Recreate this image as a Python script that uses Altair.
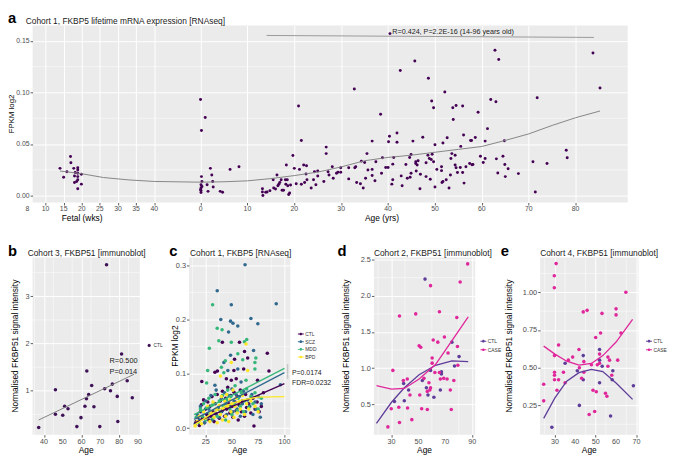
import altair as alt
import pandas as pd

FONT = "Liberation Sans"
BG = "#EBEBEB"
LAB = "#4D4D4D"
ONE = pd.DataFrame({"k": [0]})
LINEDOT = ("M-1,-0.15L1,-0.15L1,0.15L-1,0.15Z "
           "M-0.45,0A0.45,0.45,0,1,1,0.45,0A0.45,0.45,0,1,1,-0.45,0Z")

# ---------------- panel a data ----------------
a_fetal_points = [(14.0, 0.0264), (15.0, 0.0178), (15.9, 0.0232), (16.9, 0.0378), (17.0, 0.0318),
                  (17.8, 0.0264), (18.0, 0.019), (18.0, 0.0127), (18.9, 0.027), (18.9, 0.0248),
                  (18.9, 0.0216), (18.9, 0.0184), (18.9, 0.0153), (18.9, 0.0067), (18.6, 0.0137),
                  (19.9, 0.0207), (19.9, 0.0111), (18.2, 0.0223)]
a_adult_points = [(0.0, 0.0932), (0.2, 0.063), (1.0, 0.0757), (0.2, 0.0184), (0.1, 0.0105), (0.1, 0.0073),
                  (0.1, 0.005), (0.1, 0.003), (0.3, 0.0137), (0.0, 0.0057), (0.3, 0.0089), (2.1, 0.0264),
                  (2.4, 0.020), (2.6, 0.0137), (2.7, 0.0083), (1.4, 0.0105), (1.6, 0.0041), (4.2, 0.0041),
                  (4.7, 0.0032), (6.3, 0.0254), (8.2, 0.028),
                  (13.2, 0.0035), (13.2, 0.0067), (13.3, 0.0), (13.9, 0.0032), (14.2, 0.0035), (14.8, 0.0048),
                  (15.5, 0.0153), (15.6, 0.0073), (16.0, 0.0064), (16.3, 0.020), (16.5, 0.0095), (16.7, 0.011),
                  (16.9, 0.0127), (17.2, 0.0153), (17.4, 0.0051), (17.7, 0.0051), (18.1, 0.0153), (18.2, 0.011),
                  (18.3, 0.0296), (18.5, 0.0153), (18.6, 0.0095), (18.8, 0.001), (19.0, 0.0025), (19.2, 0.0102),
                  (19.7, 0.0388), (20.0, 0.0264), (20.4, 0.0114), (20.9, 0.0868), (21.1, 0.0254), (21.5, 0.0534),
                  (21.5, 0.011), (22.0, 0.0296), (22.2, 0.0127), (22.6, 0.029), (22.7, 0.0153), (22.5, 0.021),
                  (23.6, 0.0073), (24.1, 0.0153), (24.3, 0.0232), (24.6, 0.0105), (25.0, 0.0238), (25.0, 0.019),
                  (26.3, 0.0137), (26.8, 0.047), (26.8, 0.0407),
                  (27.2, 0.0232), (27.4, 0.020), (28.1, 0.028), (28.3, 0.0169), (29.0, 0.0216), (29.3, 0.0226),
                  (29.9, 0.0226), (29.9, 0.027), (31.6, 0.0162), (31.6, 0.027), (32.8, 0.1033), (32.9, 0.027),
                  (33.1, 0.028), (33.3, 0.0127), (34.1, 0.0114), (34.3, 0.0334), (34.7, 0.0073), (35.0, 0.0321),
                  (35.2, 0.0169), (35.5, 0.0407), (35.7, 0.0248), (36.6, 0.0194), (36.6, 0.0254), (36.6, 0.0528),
                  (37.2, 0.0143), (37.4, 0.0328), (38.4, 0.0789), (38.6, 0.0216), (38.8, 0.0366), (39.5, 0.0273),
                  (40.0, 0.0273), (40.1, 0.0522), (40.3, 0.0576), (40.4, 0.157), (40.8, 0.0111), (41.0, 0.0305),
                  (41.0, 0.0153), (41.2, 0.0369), (41.9, 0.0607), (41.9, 0.0518), (42.6, 0.1212), (42.8, 0.0191),
                  (43.0, 0.0095), (43.8, 0.0302), (44.1, 0.0169), (44.6, 0.0369), (44.7, 0.0178), (44.9, 0.0398),
                  (44.9, 0.0216), (45.3, 0.0528), (45.7, 0.1304), (45.9, 0.0312), (45.9, 0.0328), (46.0, 0.0238),
                  (46.2, 0.0296), (46.4, 0.0337), (46.8, 0.0067), (46.9, 0.0207), (47.4, 0.0566), (48.1, 0.0318),
                  (48.1, 0.0184), (48.5, 0.0391), (48.6, 0.1138), (48.8, 0.0359), (49.0, 0.0159), (49.2, 0.035),
                  (49.3, 0.0916), (49.4, 0.0401), (49.7, 0.0852), (49.7, 0.0328), (50.0, 0.0083), (50.0, 0.0493),
                  (50.4, 0.0254), (51.4, 0.0242), (51.4, 0.028), (51.5, 0.0127), (51.7, 0.0509), (51.7, 0.0137),
                  (52.1, 0.1005), (52.6, 0.056), (52.4, 0.0153), (53.0, 0.0073), (53.3, 0.020), (53.4, 0.0359),
                  (53.6, 0.0407), (53.8, 0.0852), (53.9, 0.0738), (54.3, 0.0296), (54.3, 0.0391), (54.5, 0.0874),
                  (54.5, 0.027), (54.8, 0.0223), (55.4, 0.0273), (55.5, 0.0477), (55.9, 0.0223), (55.9, 0.0868),
                  (56.1, 0.0588), (56.2, 0.0121), (56.6, 0.028), (57.4, 0.0312), (57.6, 0.0534), (57.8, 0.0534),
                  (57.9, 0.0299), (58.1, 0.0302), (58.6, 0.0563), (59.2, 0.0808), (59.7, 0.0382), (60.3, 0.0321),
                  (60.7, 0.0359), (60.7, 0.0528), (61.2, 0.0649), (61.9, 0.0932), (62.8, 0.1409), (63.0, 0.091),
                  (63.1, 0.0356), (63.4, 0.0219), (63.6, 0.132), (64.5, 0.0382), (64.8, 0.0531), (64.9, 0.0302),
                  (65.0, 0.0184), (65.6, 0.0261), (67.8, 0.0213), (70.9, 0.0328), (71.4, 0.0035), (71.8, 0.0948),
                  (73.9, 0.0312), (78.0, 0.0439), (78.2, 0.0366), (83.7, 0.1383), (85.2, 0.1043)]
a_fit_fetal = [(14, 0.0238), (20, 0.0212), (26, 0.0175), (33, 0.0152), (40, 0.0137)]
a_fit_adult = [(0, 0.0130), (5, 0.0134), (10, 0.0143), (15, 0.0165), (20, 0.0194), (25, 0.0228),
               (30, 0.0278), (35, 0.0338), (40, 0.0370), (45, 0.0392), (50, 0.0420), (55, 0.0448),
               (60, 0.0476), (65, 0.0535), (70, 0.0598), (75, 0.0680), (80, 0.0755), (85.2, 0.0820)]
a_rline = [(14.1, 0.1552), (83.9, 0.1533)]
a_fetal_ticks = [10, 15, 20, 25, 30, 35, 40]
a_fetal_extra = [(5, "8")]
a_age_ticks = [0, 10, 20, 30, 40, 50, 60, 70, 80]
a_y_ticks = [0.0, 0.05, 0.10, 0.15]
a_y_minor = [0.025, 0.075, 0.125]

# ---------------- panel b data ----------------
b_points = [(37.2, 0.22), (46.1, 1.02), (46.1, 0.50), (50.0, 0.48), (51.0, 0.67), (52.8, 0.62),
            (57.5, 0.24), (59.7, 0.43), (61.8, 0.67), (62.6, 0.83), (62.8, 1.42), (63.8, 0.92),
            (65.4, 1.11), (66.6, 0.66), (69.7, 0.24), (72.3, 1.04), (73.3, 3.67), (75.4, 1.00),
            (76.4, 1.14), (79.0, 0.88), (79.3, 0.35), (81.3, 1.78), (84.3, 1.21), (87.0, 0.85)]
b_fit = [(37.2, 0.38), (88.0, 1.35)]

# ---------------- panel c data ----------------
c_groups = ["CTL", "SCZ", "MDD", "BPD"]
c_colors = ["#440154", "#31688E", "#35B779", "#FDE725"]
c_ctl = [(16, 0.012), (18, 0.020), (19, 0.005), (20, 0.030), (21, 0.043), (22, 0.018), (23, 0.052), (24, 0.010),
         (25, 0.035), (26, 0.025), (27, 0.048), (28, 0.015), (29, 0.040), (30, 0.022), (31, 0.058), (32, 0.030),
         (33, 0.012), (34, 0.045), (35, 0.026), (36, 0.062), (37, 0.035), (38, 0.018), (39, 0.050), (40, 0.030),
         (41, 0.068), (42, 0.040), (43, 0.022), (44, 0.055), (45, 0.035), (46, 0.075), (47, 0.045), (48, 0.028),
         (49, 0.060), (50, 0.040), (51, 0.020), (52, 0.066), (53, 0.048), (54, 0.032), (55, 0.058), (56, 0.015),
         (57, 0.042), (58, 0.070), (59, 0.030), (60, 0.050), (62, 0.022), (63, 0.062), (64, 0.038), (66, 0.045),
         (68, 0.028), (70, 0.055), (71, 0.004), (72, 0.035), (74, 0.048), (76, 0.030), (78, 0.040), (80, 0.065),
         (40.9, 0.158), (57.2, 0.158), (83.7, 0.138), (62.0, 0.141), (52.5, 0.127), (65.0, 0.129), (36.2, 0.105),
         (51.9, 0.106), (61.2, 0.109), (85.3, 0.105), (33.8, 0.103), (21.3, 0.086), (44.7, 0.091), (49.4, 0.088),
         (54.1, 0.091), (74.4, 0.088)]
c_scz = [(15, 0.008), (17, 0.025), (19, 0.015), (20, 0.040), (22, 0.030), (24, 0.010), (25, 0.050), (27, 0.020),
         (28, 0.035), (30, 0.060), (31, 0.015), (33, 0.045), (34, 0.028), (35, 0.070), (37, 0.038), (38, 0.020),
         (40, 0.055), (41, 0.032), (43, 0.065), (44, 0.045), (45, 0.025), (47, 0.060), (48, 0.040), (50, 0.072),
         (51, 0.030), (52, 0.050), (54, 0.062), (55, 0.035), (57, 0.058), (58, 0.022), (60, 0.045), (61, 0.068),
         (63, 0.030), (65, 0.052), (67, 0.040), (69, 0.062), (70, 0.025), (72, 0.048), (73, 0.035), (75, 0.058),
         (77, 0.020), (78, 0.045),
         (62.5, 0.301), (36.0, 0.253), (49.4, 0.227), (92.2, 0.229), (39.4, 0.200), (48.7, 0.197), (51.0, 0.193),
         (55.6, 0.188), (68.1, 0.202), (74.7, 0.192), (46.8, 0.177), (70.6, 0.143), (42.3, 0.121), (48.7, 0.134),
         (46.1, 0.106), (55.6, 0.109), (58.7, 0.085), (96.2, 0.080), (33.8, 0.079)]
c_mdd = [(16, 0.020), (18, 0.010), (20, 0.035), (22, 0.022), (23, 0.045), (25, 0.015), (26, 0.038), (28, 0.055),
         (29, 0.028), (31, 0.042), (32, 0.018), (34, 0.062), (35, 0.035), (36, 0.022), (38, 0.050), (39, 0.030),
         (41, 0.060), (42, 0.040), (44, 0.015), (45, 0.052), (46, 0.070), (48, 0.035), (49, 0.058), (50, 0.025),
         (52, 0.045), (53, 0.078), (55, 0.032), (56, 0.055), (58, 0.040), (59, 0.065), (61, 0.030), (62, 0.050),
         (64, 0.072), (66, 0.038), (68, 0.058), (70, 0.045), (72, 0.065), (75, 0.035), (78, 0.055),
         (31.6, 0.227), (36.0, 0.184), (40.6, 0.181), (28.5, 0.147), (37.5, 0.161), (49.4, 0.158), (61.9, 0.159),
         (64.1, 0.163), (43.7, 0.124), (55.6, 0.137), (60.3, 0.126), (72.8, 0.129), (71.9, 0.121), (40.0, 0.112),
         (42.3, 0.102), (71.9, 0.109), (26.9, 0.106), (25.9, 0.083), (63.4, 0.088)]
c_bpd = [(15, 0.004), (17, 0.012), (19, 0.022), (21, 0.008), (23, 0.030), (25, 0.018), (27, 0.040), (29, 0.012),
         (30, 0.028), (32, 0.048), (33, 0.020), (35, 0.035), (36, 0.010), (38, 0.042), (39, 0.025), (40, 0.058),
         (41, 0.015), (42, 0.035), (43, 0.050), (44, 0.022), (45, 0.062), (46, 0.040), (47, 0.012), (48, 0.052),
         (49, 0.030), (50, 0.045), (51, 0.070), (52, 0.020), (53, 0.040), (54, 0.055), (55, 0.028), (57, 0.048),
         (58, 0.035), (60, 0.060), (62, 0.025), (64, 0.045), (66, 0.035), (68, 0.050), (72, 0.040), (75, 0.030),
         (63.4, 0.155), (49.4, 0.121), (65.0, 0.106), (39.1, 0.096)]
c_fit_ctl = [(14, 0.009), (100, 0.082)]
c_fit_scz = [(14, 0.016), (100, 0.102)]
c_fit_mdd = [(14, 0.025), (100, 0.110)]
c_fit_bpd = [(14, 0.005), (30, 0.026), (45, 0.042), (60, 0.052), (75, 0.057), (100, 0.058)]

# ---------------- panel d data ----------------
de_groups = ["CTL", "CASE"]
de_colors = ["#5E3C99", "#E0269B"]
d_ctl = [(54.9, 2.23), (32.2, 0.54), (39.0, 0.79), (39.5, 0.55), (42.7, 0.70), (52.9, 0.83), (55.9, 0.73),
         (57.1, 0.63), (59.0, 0.97), (61.5, 0.60), (66.3, 0.70), (67.1, 0.95), (67.1, 0.92), (74.9, 1.36),
         (76.8, 1.03), (80.2, 1.16)]
d_case = [(86.6, 2.44), (81.0, 2.19), (59.0, 2.14), (35.9, 1.72), (48.0, 1.75), (65.6, 1.78), (78.5, 1.70),
          (50.5, 1.31), (51.7, 1.29), (61.0, 1.39), (64.4, 1.36), (69.3, 1.43), (72.0, 1.21), (79.0, 1.30),
          (79.3, 1.04), (60.2, 1.14), (60.2, 1.07), (31.0, 0.97), (38.8, 0.83), (41.7, 0.85), (54.1, 0.86),
          (57.8, 0.80), (59.0, 0.73), (58.5, 0.70), (62.2, 0.94), (65.6, 0.94), (66.3, 0.85), (68.8, 0.86),
          (71.3, 0.85), (73.7, 0.70), (76.3, 0.83), (56.6, 0.68), (51.0, 0.63), (43.7, 0.63), (29.8, 0.44),
          (35.9, 0.25), (41.9, 0.45), (45.1, 0.29), (52.4, 0.44), (56.6, 0.43), (74.4, 0.43), (27.3, 0.19),
          (35.4, 0.46)]
d_fit_age = [18.8, 30, 39.5, 50.5, 62.7, 74.9, 87]
d_fit_ctl = [0.24, 0.53, 0.73, 0.91, 1.04, 1.10, 1.09]
d_fit_case = [0.76, 0.71, 0.72, 0.85, 1.05, 1.38, 1.71]

# ---------------- panel e data ----------------
e_ctl = [(28.5, 0.105), (35.0, 0.53), (43.9, 0.58), (43.9, 0.42), (41.0, 0.48), (42.0, 0.25), (51.9, 0.62),
         (51.9, 0.55), (51.9, 0.40), (53.2, 0.51), (57.3, 0.18), (58.1, 0.42), (58.4, 0.48), (68.5, 0.38)]
e_case = [(30.6, 1.19), (29.7, 1.11), (29.7, 1.03), (24.5, 0.39), (24.5, 0.28), (31.8, 0.65), (29.8, 0.58),
          (29.8, 0.47), (29.8, 0.45), (29.8, 0.42), (31.0, 0.35), (31.8, 0.42), (34.2, 0.47), (35.0, 0.40),
          (36.6, 0.55), (38.7, 0.57), (41.8, 0.62), (42.0, 0.50), (43.1, 0.43), (43.9, 0.87), (44.2, 0.54),
          (44.2, 0.47), (45.8, 0.88), (46.8, 0.19), (47.9, 0.52), (48.7, 0.35), (49.5, 0.21), (50.0, 0.70),
          (50.3, 0.34), (50.8, 0.52), (51.9, 0.53), (52.4, 0.73), (51.9, 0.59), (53.1, 0.86), (54.8, 0.33),
          (56.0, 0.51), (55.5, 0.31), (56.0, 0.57), (56.8, 0.55), (57.9, 0.45), (60.0, 0.89), (60.0, 0.85),
          (60.8, 0.55), (62.4, 0.73), (64.8, 1.00)]
e_fit_age = [24.5, 30, 35.8, 41.8, 47.9, 53.5, 60, 68.1]
e_fit_ctl = [0.164, 0.30, 0.41, 0.467, 0.489, 0.474, 0.398, 0.29]
e_fit_case = [0.643, 0.59, 0.543, 0.517, 0.528, 0.58, 0.67, 0.82]


# ---------------- helpers ----------------
def u_wk(w):
    return (38.3 + 3.733 * (w - 10) - 198.0) / 4.83


def label(text, x, y, size, **kw):
    return alt.Chart(ONE).mark_text(text=text, fontSize=size, font=FONT, **kw).encode(
        x=alt.value(x), y=alt.value(y))


def ptitle(text, dx):
    return label(text, dx, -4.5, 8.5, align="left", color="#1A1A1A")


def grp_df(pairs_by_group, names):
    rows = []
    for name, pairs in zip(names, pairs_by_group):
        rows += [(a, v, name) for a, v in pairs]
    return pd.DataFrame(rows, columns=["age", "val", "grp"])


H = 180
XT = H + 15.5


def grid(xdom, ydom, xmaj, ymaj, xmin, ymin, yfmt):
    X = alt.X("age:Q", scale=alt.Scale(domain=xdom, nice=False, zero=False),
              axis=alt.Axis(values=xmaj, title=None, labels=False))
    Y = alt.Y("val:Q", scale=alt.Scale(domain=ydom, nice=False, zero=False),
              axis=alt.Axis(values=ymaj, title=None, format=yfmt, labelOverlap=False, labelFontSize=7.5))
    gx = alt.Chart(pd.DataFrame({"age": xmin})).mark_rule(color="white", strokeWidth=0.5).encode(x=X)
    gy = alt.Chart(pd.DataFrame({"val": ymin})).mark_rule(color="white", strokeWidth=0.5).encode(y=Y)
    xl = alt.Chart(pd.DataFrame({"age": xmaj, "lab": [str(v) for v in xmaj]})).mark_text(
        baseline="top", fontSize=7.3, font=FONT, color=LAB).encode(
        x="age:Q", y=alt.value(H + 3.2), text="lab:N")
    return [gx, gy, xl]


# ---------------- panel a ----------------
AW, AH = 605, 180
a_dom = [-35.82, 91.10]
a_tick_u = [u_wk(w) for w in a_fetal_ticks] + a_age_ticks
df_a = pd.DataFrame([(u_wk(w), v) for w, v in a_fetal_points] + a_adult_points, columns=["u", "v"])
df_afit = pd.DataFrame([(u_wk(w), v) for w, v in a_fit_fetal] + a_fit_adult, columns=["u", "v"])
df_rline = pd.DataFrame(a_rline, columns=["u", "v"])
df_alab = pd.DataFrame(
    [(u_wk(w), str(w)) for w in a_fetal_ticks] + [(u_wk(w), s) for w, s in a_fetal_extra]
    + [(a, str(a)) for a in a_age_ticks], columns=["u", "lab"])

ax = alt.X("u:Q", scale=alt.Scale(domain=a_dom, nice=False, zero=False),
           axis=alt.Axis(values=a_tick_u, labels=False, title=None))
ay = alt.Y("v:Q", scale=alt.Scale(domain=[-0.0067, 0.1649], nice=False, zero=False),
           axis=alt.Axis(values=a_y_ticks, format=".2f", title=None, labelFontSize=7, labelOverlap=False))

a_layers = [
    alt.Chart(pd.DataFrame({"v": a_y_minor})).mark_rule(color="white", strokeWidth=0.5).encode(y=ay),
    alt.Chart(df_a).mark_circle(size=9, opacity=1, color="#440154").encode(x=ax, y="v:Q"),
    alt.Chart(df_afit).mark_line(color="#858585", strokeWidth=1).encode(x="u:Q", y="v:Q"),
    alt.Chart(df_rline).mark_line(color="#999999", strokeWidth=1).encode(x="u:Q", y="v:Q"),
    alt.Chart(pd.DataFrame({"u": [40.9], "v": [0.1589], "t": ["R=0.424, P=2.2E-16 (14-96 years old)"]}))
    .mark_text(align="left", baseline="middle", fontSize=7.3, font=FONT, color="#222222")
    .encode(x="u:Q", y="v:Q", text="t:N"),
    alt.Chart(df_alab).mark_text(baseline="top", fontSize=7, font=FONT, color=LAB)
    .encode(x="u:Q", y=alt.value(AH + 3), text="lab:N"),
    alt.Chart(pd.DataFrame({"u": [-25.26, 38.7], "t": ["Fetal (wks)", "Age (yrs)"]}))
    .mark_text(baseline="middle", fontSize=8.5, font=FONT, color="black")
    .encode(x="u:Q", y=alt.value(AH + 16), text="t:N"),
    label("FPKM log2", -21, AH / 2, 8, angle=270, baseline="middle", align="center"),
    label("a", -25, -7, 15, fontWeight="bold", align="left"),
    ptitle("Cohort 1, FKBP5 lifetime mRNA expression [RNAseq]", -7),
]
panel_a = alt.layer(*a_layers).properties(width=AW, height=AH, view=alt.ViewBackground(fill=BG))

# ---------------- panel b ----------------
BW = 109
b_layers = grid([33.95, 91.0], [0.07, 3.82], [40, 50, 60, 70, 80, 90], [1, 2, 3],
                [35, 45, 55, 65, 75, 85], [0.5, 1.5, 2.5, 3.5], "d")
df_b = pd.DataFrame([(a, v, "CTL") for a, v in b_points], columns=["age", "val", "grp"])
b_layers += [
    alt.Chart(df_b).mark_circle(size=13, opacity=1).encode(
        x="age:Q", y="val:Q",
        color=alt.Color("grp:N", scale=alt.Scale(domain=["CTL"], range=["#3F1258"]),
                        legend=alt.Legend(orient="none", legendX=116, legendY=86.8, title=None,
                                          padding=0, labelFontSize=5, symbolSize=10,
                                          symbolType="circle", symbolStrokeWidth=0, labelOffset=2))),
    alt.Chart(pd.DataFrame(b_fit, columns=["age", "val"])).mark_line(color="#7F7F7F", strokeWidth=1)
    .encode(x="age:Q", y="val:Q"),
    alt.Chart(pd.DataFrame({"age": [74.9, 74.9], "val": [1.63, 1.40], "t": ["R=0.500", "P=0.014"]}))
    .mark_text(align="left", baseline="middle", fontSize=7.5, font=FONT, color="#222222")
    .encode(x="age:Q", y="val:Q", text="t:N"),
    label("Normalised FKBP51 signal intensity", -18, H / 2, 8.5, angle=270, baseline="middle", align="center"),
    label("Age", BW / 2, XT, 8.5, baseline="middle", align="center"),
    label("b", -25, -7, 15, fontWeight="bold", align="left"),
    ptitle("Cohort 3, FKBP51 [immunoblot]", -5),
]
panel_b = alt.layer(*b_layers).properties(width=BW, height=H, view=alt.ViewBackground(fill=BG))

# ---------------- panel c ----------------
CW = 103
c_layers = grid([9.1, 105.6], [-0.012, 0.314], [25, 50, 75, 100], [0.0, 0.1, 0.2, 0.3],
                [12.5, 37.5, 62.5, 87.5], [0.05, 0.15, 0.25], ".1f")
df_c = grp_df([c_ctl, c_scz, c_mdd, c_bpd], c_groups)
df_cfit = grp_df([c_fit_ctl, c_fit_scz, c_fit_mdd, c_fit_bpd], c_groups)
c_layers += [
    alt.Chart(df_c).mark_circle(size=13, opacity=1).encode(
        x="age:Q", y="val:Q",
        color=alt.Color("grp:N", scale=alt.Scale(domain=c_groups, range=c_colors),
                        legend=alt.Legend(orient="none", legendX=110.7, legendY=74.7, title=None,
                                          padding=0, labelFontSize=5, symbolSize=36, symbolType=LINEDOT,
                                          symbolStrokeWidth=0, rowPadding=1.8, labelOffset=1.5))),
    alt.Chart(df_cfit).mark_line(strokeWidth=1.4).encode(
        x="age:Q", y="val:Q",
        stroke=alt.Stroke("grp:N", scale=alt.Scale(domain=c_groups, range=c_colors), legend=None)),
    alt.Chart(pd.DataFrame({"age": [103.0, 103.0], "val": [0.091, 0.118]})).mark_line(
        color="#C8C8C8", strokeWidth=1.5).encode(x="age:Q", y="val:Q"),
    alt.Chart(pd.DataFrame({"age": [107.2, 107.2], "val": [0.1007, 0.0826], "t": ["P=0.0174", "FDR=0.0232"]}))
    .mark_text(align="left", baseline="middle", fontSize=7, font=FONT, color="#222222")
    .encode(x="age:Q", y="val:Q", text="t:N"),
    label("FPKM log2", -14.5, H / 2, 8.5, angle=270, baseline="middle", align="center"),
    label("Age", CW / 2, XT, 8.5, baseline="middle", align="center"),
    label("c", -20, -7, 15, fontWeight="bold", align="left"),
    ptitle("Cohort 1, FKBP5 [RNAseq]", 1),
]
panel_c = alt.layer(*c_layers).properties(width=CW, height=H, view=alt.ViewBackground(fill=BG))


# ---------------- panels d, e ----------------
def de_panel(W, xdom, ydom, xmaj, ymaj, xmin, ymin, yfmt, ctl, case, fit_age, fit_ctl, fit_case,
             letter, ttl, ytx, lx):
    layers = grid(xdom, ydom, xmaj, ymaj, xmin, ymin, yfmt)
    df = grp_df([ctl, case], de_groups)
    dff = grp_df([list(zip(fit_age, fit_ctl)), list(zip(fit_age, fit_case))], de_groups)
    layers += [
        alt.Chart(df).mark_circle(size=13, opacity=1).encode(
            x="age:Q", y="val:Q",
            color=alt.Color("grp:N", scale=alt.Scale(domain=de_groups, range=de_colors),
                            legend=alt.Legend(orient="none", legendX=lx, legendY=82, title=None,
                                              padding=0, labelFontSize=5, symbolSize=36,
                                              symbolType=LINEDOT, symbolStrokeWidth=0, rowPadding=2.7,
                                              labelOffset=1.5))),
        alt.Chart(dff).mark_line(strokeWidth=1.3).encode(
            x="age:Q", y="val:Q",
            stroke=alt.Stroke("grp:N", scale=alt.Scale(domain=de_groups, range=de_colors), legend=None)),
        label("Normalised FKBP51 signal intensity", ytx, H / 2, 8.5, angle=270, baseline="middle",
              align="center"),
        label("Age", W / 2, XT, 8.5, baseline="middle", align="center"),
        label(letter, ytx - 8.5, -7, 15, fontWeight="bold", align="left"),
        ptitle(ttl, 0),
    ]
    return alt.layer(*layers).properties(width=W, height=H, view=alt.ViewBackground(fill=BG))


panel_d = de_panel(103, [16.9, 92.2], [0.083, 2.527], [30, 50, 70, 90], [0.5, 1.0, 1.5, 2.0, 2.5],
                   [20, 40, 60, 80], [0.75, 1.25, 1.75, 2.25], ".1f", d_ctl, d_case,
                   d_fit_age, d_fit_ctl, d_fit_case, "d", "Cohort 2, FKBP51 [immunoblot]", -28.5, 108.3)
panel_e = de_panel(100, [22.75, 71.0], [0.056, 1.23], [30, 40, 50, 60, 70], [0.25, 0.50, 0.75, 1.00],
                   [25, 35, 45, 55, 65], [0.125, 0.375, 0.625, 0.875, 1.125], ".2f", e_ctl, e_case,
                   e_fit_age, e_fit_ctl, e_fit_case, "e", "Cohort 4, FKBP51 [immunoblot]", -31.5, 107.7)


def spacer(w):
    return alt.Chart(ONE).mark_point(opacity=0).encode(
        x=alt.X("k:Q", axis=None), y=alt.Y("k:Q", axis=None)).properties(width=w, height=10)


row = alt.hconcat(panel_b, spacer(50), panel_c, spacer(85), panel_d, spacer(66), panel_e,
                  spacing=0, bounds="flush").resolve_scale(
    color="independent", stroke="independent").resolve_legend(color="independent", stroke="independent")
chart = alt.vconcat(panel_a, row, spacing=56, bounds="flush").resolve_scale(
    color="independent", stroke="independent").resolve_legend(
    color="independent", stroke="independent").properties(padding=0)
chart = chart.configure_view(strokeWidth=0).configure_axis(
    labelFont=FONT, labelColor=LAB, labelFontSize=7, tickColor="#333333", tickSize=2.5,
    tickWidth=0.8, domain=False, grid=True, gridColor="white", gridWidth=1, labelPadding=1,
    labelFlush=False, labelOverlap=False
).configure_legend(labelFont=FONT, labelColor="#333333")

chart.save("out.html", embed_options={"renderer": "svg", "actions": False})
